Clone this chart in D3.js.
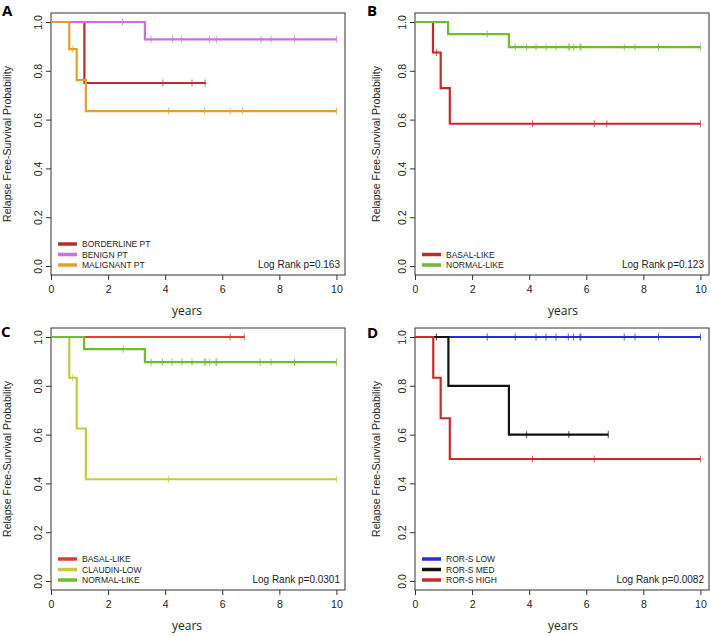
<!DOCTYPE html>
<html><head><meta charset="utf-8">
<script src="https://cdn.jsdelivr.net/npm/d3@7"></script>
<style>body{margin:0;background:#fff}svg{display:block}</style>
</head><body><svg id="chart" width="711" height="636"></svg>
<script>
// ---------- DATA ----------
const X_TICKS = [0, 2, 4, 6, 8, 10];
const Y_TICKS = [0.0, 0.2, 0.4, 0.6, 0.8, 1.0];
const PANEL_LETTERS = ["A", "B", "C", "D"];
const LOG_RANK = ["Log Rank p=0.163", "Log Rank p=0.123", "Log Rank p=0.0301", "Log Rank p=0.0082"];

// Panel A
const A_NAMES = ["BORDERLINE PT", "BENIGN PT", "MALIGNANT PT"];
const A_COLORS = ["#B4302F", "#CC6FE0", "#E0A030"];
const A_BORDERLINE_TIME = [0, 1.17];
const A_BORDERLINE_SURV = [1.0, 0.75];
const A_BORDERLINE_END = 5.42;
const A_BORDERLINE_CENSOR = [3.92, 4.94, 5.40];
const A_BENIGN_TIME = [0, 3.29];
const A_BENIGN_SURV = [1.0, 0.929];
const A_BENIGN_END = 10;
const A_BENIGN_CENSOR = [2.51, 3.51, 4.26, 4.58, 5.55, 5.79, 7.36, 7.71, 8.53, 10];
const A_MALIGNANT_TIME = [0, 0.64, 0.90, 1.22];
const A_MALIGNANT_SURV = [1.0, 0.889, 0.762, 0.635];
const A_MALIGNANT_END = 10;
const A_MALIGNANT_CENSOR = [0.76, 4.12, 5.38, 6.28, 6.71, 10];

// Panel B
const B_NAMES = ["BASAL-LIKE", "NORMAL-LIKE"];
const B_COLORS = ["#C8282A", "#6DBE2D"];
const B_BASAL_TIME = [0, 0.63, 0.90, 1.22];
const B_BASAL_SURV = [1.0, 0.875, 0.729, 0.583];
const B_BASAL_END = 10;
const B_BASAL_CENSOR = [0.75, 4.12, 6.28, 6.72, 10];
const B_NORMAL_TIME = [0, 1.16, 3.29];
const B_NORMAL_SURV = [1.0, 0.95, 0.897];
const B_NORMAL_END = 10;
const B_NORMAL_CENSOR = [2.53, 3.51, 3.91, 4.24, 4.59, 4.94, 5.37, 5.42, 5.56, 5.78, 5.81, 7.33, 7.71, 8.53, 10];

// Panel C
const C_NAMES = ["BASAL-LIKE", "CLAUDIN-LOW", "NORMAL-LIKE"];
const C_COLORS = ["#E03A3A", "#C2CC3C", "#6DBE2D"];
const C_BASAL_TIME = [0];
const C_BASAL_SURV = [1.0];
const C_BASAL_END = 6.78;
const C_BASAL_CENSOR = [6.28, 6.77];
const C_CLAUDIN_TIME = [0, 0.64, 0.90, 1.22];
const C_CLAUDIN_SURV = [1.0, 0.833, 0.625, 0.417];
const C_CLAUDIN_END = 10;
const C_CLAUDIN_CENSOR = [0.76, 4.12, 10];
const C_NORMAL_TIME = [0, 1.16, 3.29];
const C_NORMAL_SURV = [1.0, 0.95, 0.897];
const C_NORMAL_END = 10;
const C_NORMAL_CENSOR = [2.53, 3.51, 3.91, 4.24, 4.59, 4.94, 5.37, 5.42, 5.56, 5.78, 5.81, 7.33, 7.71, 8.53, 10];

// Panel D
const D_NAMES = ["ROR-S LOW", "ROR-S MED", "ROR-S HIGH"];
const D_COLORS = ["#2828E6", "#111111", "#CC2A2A"];
const D_LOW_TIME = [0];
const D_LOW_SURV = [1.0];
const D_LOW_END = 10;
const D_LOW_CENSOR = [2.53, 3.51, 4.24, 4.59, 4.94, 5.37, 5.56, 5.78, 5.81, 7.33, 7.71, 8.53, 10];
const D_MED_TIME = [0, 1.17, 3.29];
const D_MED_SURV = [1.0, 0.8, 0.6];
const D_MED_END = 6.77;
const D_MED_CENSOR = [0.75, 3.91, 5.39, 6.77];
const D_HIGH_TIME = [0, 0.64, 0.90, 1.22];
const D_HIGH_SURV = [1.0, 0.833, 0.667, 0.5];
const D_HIGH_END = 10;
const D_HIGH_CENSOR = [4.12, 6.28, 10];

// ---------- assemble ----------
function series(name, color, time, surv, end, censor) { return {name, color, time, surv, end, censor}; }
const panels = [
  {series: [
    series(A_NAMES[0], A_COLORS[0], A_BORDERLINE_TIME, A_BORDERLINE_SURV, A_BORDERLINE_END, A_BORDERLINE_CENSOR),
    series(A_NAMES[1], A_COLORS[1], A_BENIGN_TIME, A_BENIGN_SURV, A_BENIGN_END, A_BENIGN_CENSOR),
    series(A_NAMES[2], A_COLORS[2], A_MALIGNANT_TIME, A_MALIGNANT_SURV, A_MALIGNANT_END, A_MALIGNANT_CENSOR)]},
  {series: [
    series(B_NAMES[0], B_COLORS[0], B_BASAL_TIME, B_BASAL_SURV, B_BASAL_END, B_BASAL_CENSOR),
    series(B_NAMES[1], B_COLORS[1], B_NORMAL_TIME, B_NORMAL_SURV, B_NORMAL_END, B_NORMAL_CENSOR)]},
  {series: [
    series(C_NAMES[0], C_COLORS[0], C_BASAL_TIME, C_BASAL_SURV, C_BASAL_END, C_BASAL_CENSOR),
    series(C_NAMES[1], C_COLORS[1], C_CLAUDIN_TIME, C_CLAUDIN_SURV, C_CLAUDIN_END, C_CLAUDIN_CENSOR),
    series(C_NAMES[2], C_COLORS[2], C_NORMAL_TIME, C_NORMAL_SURV, C_NORMAL_END, C_NORMAL_CENSOR)]},
  {series: [
    series(D_NAMES[0], D_COLORS[0], D_LOW_TIME, D_LOW_SURV, D_LOW_END, D_LOW_CENSOR),
    series(D_NAMES[1], D_COLORS[1], D_MED_TIME, D_MED_SURV, D_MED_END, D_MED_CENSOR),
    series(D_NAMES[2], D_COLORS[2], D_HIGH_TIME, D_HIGH_SURV, D_HIGH_END, D_HIGH_CENSOR)]}
];

// ---------- layout ----------
const BOX_W = 294, BOX_H = 262;
const layout = [
  {bx: 51,  by: 13,  ylab: 11,  years: 187,  letterX: 2,   letterY: 16},
  {bx: 415, by: 13,  ylab: 380, years: 563,  letterX: 367, letterY: 16},
  {bx: 51,  by: 328, ylab: 11,  years: 187,  letterX: 1,   letterY: 337},
  {bx: 415, by: 328, ylab: 380, years: 563,  letterX: 367, letterY: 338}
];

const svg = d3.select("#chart");
const AX = "#333";
const FONT = "'Liberation Sans', Arial, sans-serif";

panels.forEach((p, i) => {
  const L = layout[i];
  const g = svg.append("g").attr("transform", `translate(${L.bx},${L.by})`);
  const x = d3.scaleLinear().domain([0, 10.3]).range([0, BOX_W]);
  const y = d3.scaleLinear().domain([0, 1]).range([BOX_H - 9, 9]);

  // box
  g.append("rect").attr("x", 0).attr("y", 0).attr("width", BOX_W).attr("height", BOX_H)
    .attr("fill", "none").attr("stroke", AX).attr("stroke-width", 1);

  // x axis
  const xa = g.append("g").attr("transform", `translate(0,${BOX_H})`)
    .call(d3.axisBottom(x).tickValues(X_TICKS).tickSize(5).tickPadding(6).tickFormat(d3.format("d")));
  xa.select(".domain").remove();
  xa.selectAll("line").attr("stroke", AX);
  xa.selectAll("text").attr("font-family", FONT).attr("font-size", 10.5).attr("fill", "#222");

  // y axis
  const ya = g.append("g").call(d3.axisLeft(y).tickValues(Y_TICKS).tickSize(5).tickFormat(d3.format(".1f")));
  ya.select(".domain").remove();
  ya.selectAll("line").attr("stroke", AX);
  ya.selectAll("text")
    .attr("x", null).attr("dy", null)
    .attr("transform", "translate(-9.5,0) rotate(-90)")
    .attr("text-anchor", "middle")
    .attr("font-family", FONT).attr("font-size", 10.5).attr("fill", "#222");

  // curves
  const line = d3.line().x(d => x(d[0])).y(d => y(d[1])).curve(d3.curveStepAfter);
  p.series.forEach(s => {
    const pts = s.time.map((t, k) => [t, s.surv[k]]);
    pts.push([s.end, s.surv[s.surv.length - 1]]);
    g.append("path").datum(pts).attr("d", line).attr("fill", "none")
      .attr("stroke", s.color).attr("stroke-width", 2.2).attr("stroke-linejoin", "miter");
    const survAt = c => { let v = s.surv[0]; s.time.forEach((t, k) => { if (t <= c) v = s.surv[k]; }); return v; };
    g.selectAll(null).data(s.censor).enter().append("line")
      .attr("x1", d => x(d)).attr("x2", d => x(d))
      .attr("y1", d => y(survAt(d)) - 3.5).attr("y2", d => y(survAt(d)) + 3.5)
      .attr("stroke", s.color).attr("stroke-width", 1).attr("opacity", 0.75);
  });

  // legend (anchored bottom-left)
  const n = p.series.length;
  const rowGap = 10.5;
  const lastRow = y(0) - 1;
  p.series.forEach((s, k) => {
    const yy = lastRow - (n - 1 - k) * rowGap;
    g.append("line").attr("x1", 7).attr("x2", 26).attr("y1", yy).attr("y2", yy)
      .attr("stroke", s.color).attr("stroke-width", 3.5);
    g.append("text").attr("x", 31).attr("y", yy + 3).text(s.name)
      .attr("font-family", FONT).attr("font-size", 8.5).attr("fill", "#222");
  });

  // log rank
  g.append("text").attr("x", BOX_W - 5).attr("y", y(0) + 2).attr("text-anchor", "end")
    .text(LOG_RANK[i]).attr("font-family", FONT).attr("font-size", 10).attr("fill", "#222");

  // axis titles
  svg.append("text").attr("transform", `translate(${L.ylab},${L.by + (y(0) + y(1)) / 2}) rotate(-90)`)
    .attr("text-anchor", "middle").text("Relapse Free-Survival Probability")
    .attr("font-family", FONT).attr("font-size", 10.5).attr("fill", "#222");
  svg.append("text").attr("x", L.years).attr("y", L.by + y(0) + 49).attr("text-anchor", "middle")
    .text("years").attr("font-family", "'Open Sans', sans-serif").attr("font-size", 12).attr("fill", "#222");

  // panel letter
  svg.append("text").attr("x", L.letterX).attr("y", L.letterY).text(PANEL_LETTERS[i])
    .attr("font-family", "'Open Sans', Arial, sans-serif").attr("font-weight", "bold")
    .attr("font-size", 15).attr("fill", "#000");
});
</script></body></html>
